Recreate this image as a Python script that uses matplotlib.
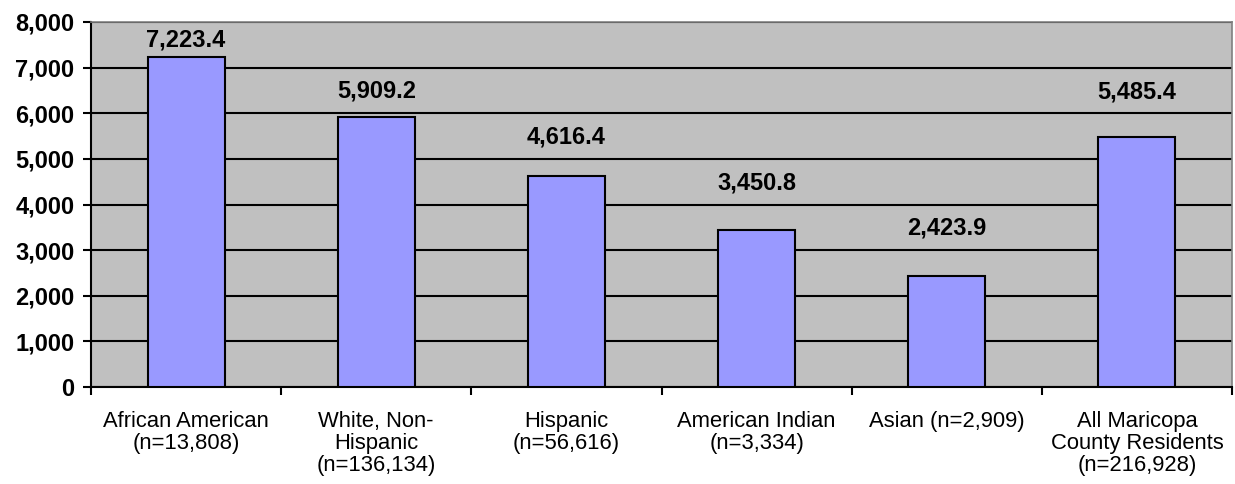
import numpy as np
import matplotlib.pyplot as plt
from matplotlib.ticker import FuncFormatter, FixedLocator
from matplotlib.transforms import offset_copy

plt.rcParams['font.family'] = ['Liberation Sans', 'DejaVu Sans']

categories = ['African American\n(n=13,808)', 'White, Non-\nHispanic\n(n=136,134)',
              'Hispanic\n(n=56,616)', 'American Indian\n(n=3,334)',
              'Asian (n=2,909)', 'All Maricopa\nCounty Residents\n(n=216,928)']
values = [7223.4, 5909.2, 4616.4, 3450.8, 2423.9, 5485.4]
yticks = [0, 1000, 2000, 3000, 4000, 5000, 6000, 7000, 8000]

# gap (points) between bar top and its value label, as placed in the original
label_gap = [4, 11, 20, 25, 26.5, 24]

fig = plt.figure(figsize=(12.35, 4.84), dpi=100)
ax = fig.add_axes([91 / 1235, 1 - 387 / 484, (1232 - 91) / 1235, (387 - 22) / 484])
ax.set_facecolor('#C0C0C0')

x = np.arange(len(values))
ax.set_axisbelow(True)
ax.yaxis.grid(True, color='black', linewidth=1.5)
ax.bar(x, values, width=0.405, color='#9999FF', edgecolor='black', linewidth=1.5, zorder=3)

for xi, v, g in zip(x, values, label_gap):
    tr = offset_copy(ax.transData, fig=fig, x=0, y=g, units='points')
    ax.text(xi, v, f'{v:,.1f}', ha='center', va='bottom', fontsize=17,
            fontweight='bold', zorder=4, transform=tr)

ax.set_xlim(-0.5, len(values) - 0.5)
ax.set_ylim(0, 8000)
ax.set_yticks(yticks)
ax.yaxis.set_major_formatter(FuncFormatter(lambda v, p: f'{int(v):,}'))
for lab in ax.get_yticklabels():
    lab.set_fontweight('bold')
ax.tick_params(axis='y', labelsize=17, length=6, width=1.5, direction='out', pad=6)

ax.set_xticks(x)
ax.set_xticklabels(categories, fontsize=15.8, linespacing=1.08, va='top')
ax.tick_params(axis='x', which='major', length=0, pad=17)
ax.xaxis.set_minor_locator(FixedLocator(np.arange(len(values) + 1) - 0.5))
ax.tick_params(axis='x', which='minor', length=6, width=1.5, direction='out')

ax.spines['left'].set_linewidth(1.5)
ax.spines['bottom'].set_linewidth(1.5)
ax.spines['top'].set_color('#808080')
ax.spines['right'].set_color('#808080')
ax.spines['top'].set_linewidth(1.2)
ax.spines['right'].set_linewidth(1.2)

fig.savefig('out.png', dpi=100)
